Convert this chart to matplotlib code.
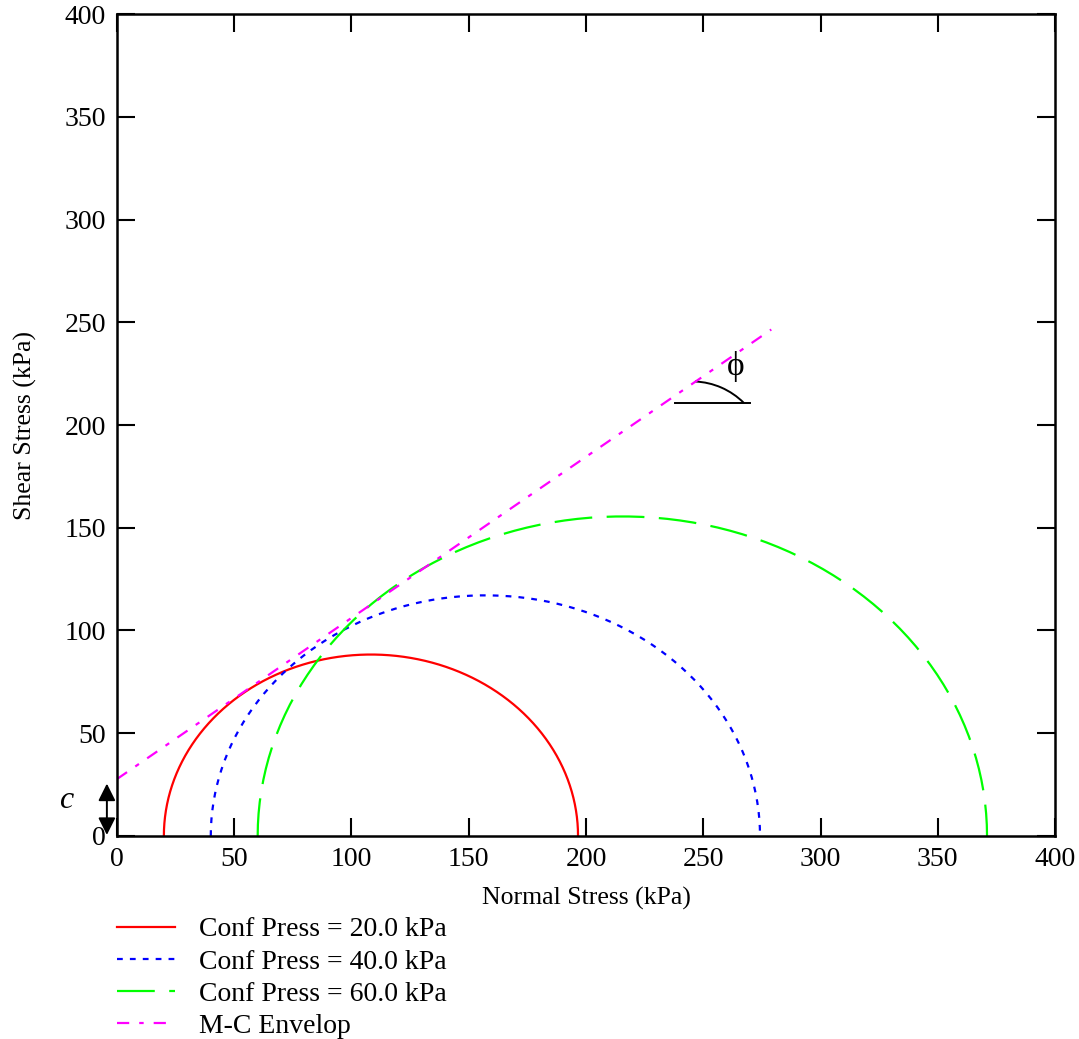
import numpy as np
import matplotlib.pyplot as plt
from matplotlib.patches import Arc

# triaxial test results (kPa)
conf_press = [20.0, 40.0, 60.0]
sigma1 = [196.6, 274.2, 371.0]
cohesion = 27.7
phi_deg = 38.1
env_x = [0.0, 279.0]

colors = ['#ff0000', '#0000ff', '#00ff00']
styles = ['-', (0, (2.6, 3.2)), (0, (17, 6.5))]

plt.rcParams['font.family'] = ['Liberation Serif', 'DejaVu Serif']

fig = plt.figure(figsize=(10.79, 10.39), dpi=100)
ax = fig.add_axes([0.1084, 0.1954, 0.8694, 0.7911])

lines = []
for s3, s1, c, ls in zip(conf_press, sigma1, colors, styles):
    cen = (s1 + s3) / 2
    r = (s1 - s3) / 2
    t = np.linspace(np.pi, 0, 90)
    ln, = ax.plot(cen + r * np.cos(t), r * np.sin(t), color=c, ls=ls, lw=1.6,
                  label='Conf Press = %.1f kPa' % s3)
    lines.append(ln)

ex = np.array(env_x)
ey = cohesion + ex * np.tan(np.radians(phi_deg))
env, = ax.plot(ex, ey, color='#ff00ff', ls=(0, (5.5, 4.5, 2, 4.5)), lw=1.6,
               label='M-C Envelop')
lines.append(env)

# phi sketch
ax.plot([238, 270], [210.7, 210.7], color='black', lw=1.4)
ax.add_patch(Arc((245.2, 185.4), 62.6, 71.6, theta1=49, theta2=88,
                 color='black', lw=1.4))
ax.text(263.8, 228.5, '\u03d5', fontsize=24, ha='center', va='center')

# cohesion arrow
ax.annotate('', xy=(-4.3, 0.5), xytext=(-4.3, 25.5),
            arrowprops=dict(arrowstyle='<|-|>', color='black', lw=1.4,
                            mutation_scale=26, shrinkA=0, shrinkB=0),
            annotation_clip=False)
ax.text(-21.5, 17.5, 'c', fontsize=23, style='italic', ha='center',
        va='center')

ax.set_xlim(0, 400)
ax.set_ylim(0, 400)
ax.set_xticks(np.arange(0, 401, 50))
ax.set_yticks(np.arange(0, 401, 50))
ax.tick_params(direction='in', length=13, width=1.5, labelsize=20,
               top=True, right=True, pad=8)
for sp in ax.spines.values():
    sp.set_linewidth(1.8)
ax.set_xlabel('Normal Stress (kPa)', fontsize=18.5, labelpad=11)
ax.set_ylabel('Shear Stress (kPa)', fontsize=18.5, labelpad=20)

fig.legend(handles=lines, loc='upper left', bbox_to_anchor=(0.1084, 0.1174),
           frameon=False, fontsize=20, handlelength=2.1, handletextpad=0.86,
           labelspacing=0.24, borderaxespad=0, borderpad=0)

fig.savefig('out.png', dpi=100)
plt.close(fig)
